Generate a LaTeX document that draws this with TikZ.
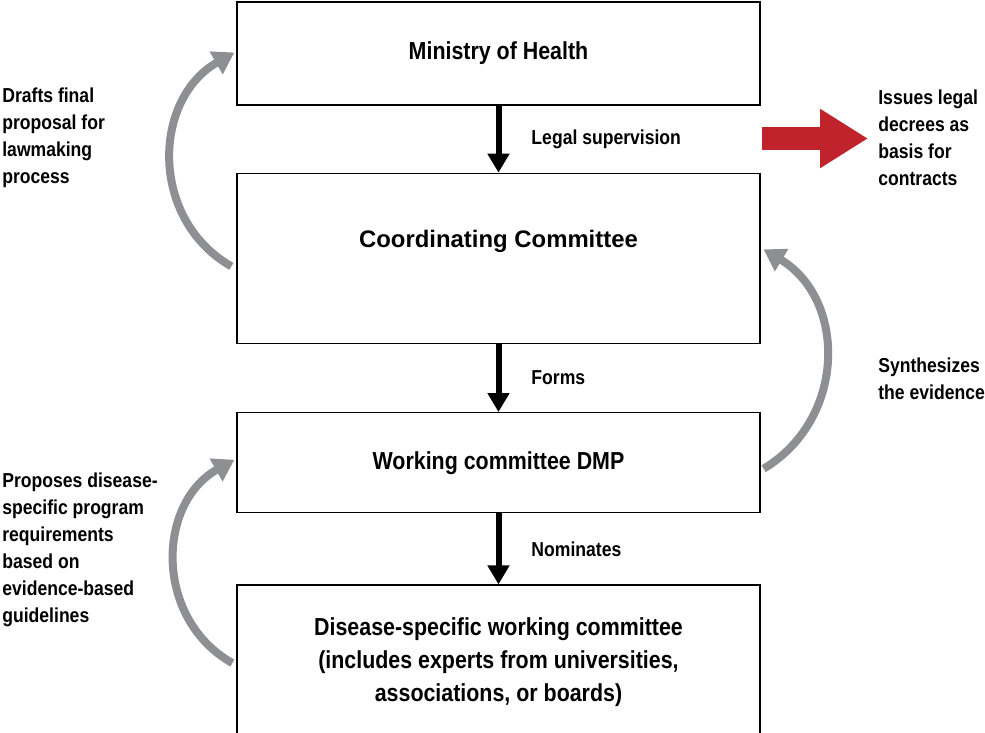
\documentclass[tikz,border=0pt]{standalone}
\usepackage{fontspec}
\setmainfont{Liberation Sans}
\newfontfamily\condfont[FakeStretch=0.87]{Liberation Sans}
\usetikzlibrary{positioning, arrows.meta}
\definecolor{arcgray}{HTML}{8E8F93}
\definecolor{decreered}{HTML}{C0232B}
\tikzset{
  box/.style={draw, line width=0.8pt, minimum width=10.46cm, align=center, inner sep=0pt, font=\condfont\bfseries\fontsize{14}{19}\selectfont},
  sidetext/.style={align=left, inner sep=0pt, font=\condfont\bfseries\fontsize{11.5}{15.4}\selectfont},
  downarrow/.style={line width=0.12cm, -{Triangle[width=0.42cm, length=0.38cm]}},
  grayarc/.style={arcgray, line width=0.16cm, -{Triangle[width=0.5cm, length=0.42cm]}},
  redarrow/.style={decreered, line width=0.46cm, -{Triangle[width=1.12cm, length=0.96cm]}}
}
\begin{document}
\begin{tikzpicture}[x=0.02cm, y=-0.02cm]
\useasboundingbox (0,0) rectangle (985,733);
\clip (0,0) rectangle (985,733);
\node[box, minimum height=2.06cm] (moh) at (498.5,53.5) {Ministry of Health};
\node[box, minimum height=3.4cm, below=1.34cm of moh, text depth=0.78cm, font=\bfseries\fontsize{13.6}{16}\selectfont] (cc) {Coordinating Committee};
\node[box, minimum height=2cm, below=1.36cm of cc] (wc) {Working committee DMP};
\node[box, minimum height=3.08cm, below=1.42cm of wc] (ds) {Disease-specific working committee\\(includes experts from universities,\\associations, or boards)};
\draw[downarrow] (moh) -- (cc) node[midway, right=0.6cm, sidetext]{Legal supervision};
\draw[downarrow] (cc) -- (wc) node[midway, right=0.6cm, sidetext]{Forms};
\draw[downarrow] (wc) -- (ds) node[midway, right=0.6cm, sidetext]{Nominates};
\node[sidetext, anchor=west] (drafts) at (2,138) {Drafts final\\proposal for\\lawmaking\\process};
\node[sidetext, anchor=west] (issues) at (878,138) {Issues legal\\decrees as\\basis for\\contracts};
\node[sidetext, anchor=west] (synth) at (878,379) {Synthesizes\\the evidence};
\node[sidetext, anchor=west] (proposes) at (2,549.5) {Proposes disease-\\specific program\\requirements\\based on\\evidence-based\\guidelines};
\draw[grayarc] ([shift={(-5,8)}]cc.west) .. controls +(-82,-47) and +(-82,47) .. ([shift={(-2,-1)}]moh.west);
\draw[grayarc] ([shift={(3,6)}]wc.east) .. controls +(83,-50) and +(83,50) .. ([shift={(3,-9)}]cc.east);
\draw[grayarc] ([shift={(-4,1)}]ds.west) .. controls +(-78,-44) and +(-78,44) .. ([shift={(-2,-3)}]wc.west);
\coordinate (decreestart) at (762,138.5);
\draw[redarrow, shorten >=0.2cm] (decreestart) -- (decreestart -| issues.west);
\end{tikzpicture}
\end{document}
